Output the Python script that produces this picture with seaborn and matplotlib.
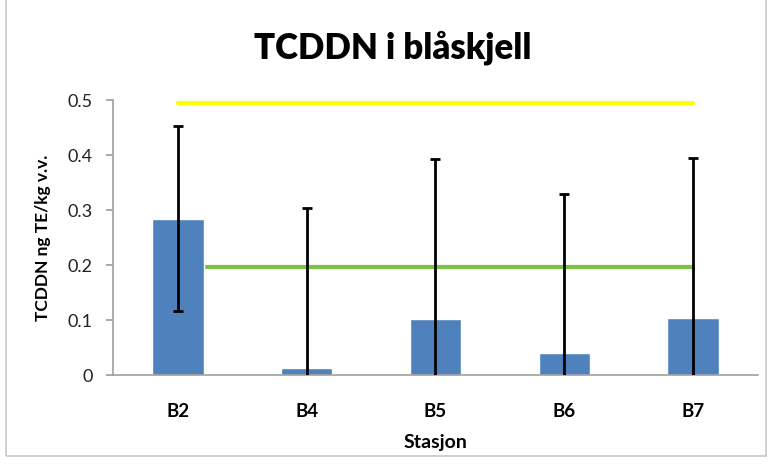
import matplotlib.pyplot as plt
import seaborn as sns
import numpy as np
import pandas as pd
from matplotlib.patches import Rectangle

# Data
stations = ["B2", "B4", "B5", "B6", "B7"]
values = [0.284, 0.013, 0.102, 0.040, 0.104]
errors = [0.168, 0.291, 0.291, 0.289, 0.290]
limit_yellow = 0.495
limit_green = 0.197

sns.set_theme(style="white")
plt.rcParams['font.family'] = ['Lato', 'DejaVu Sans']
plt.rcParams['text.color'] = 'black'
plt.rcParams['axes.labelcolor'] = 'black'

df = pd.DataFrame({"Stasjon": stations, "Verdi": values})

fig = plt.figure(figsize=(7.71, 4.70), dpi=100)
ax = fig.add_axes([0.1472, 0.2021, 0.8353, 0.5851])

# Reference lines behind the bars
ax.plot([0, len(stations) - 1], [limit_yellow, limit_yellow], color="#FFFF00", lw=3, zorder=1)
ax.plot([0, len(stations) - 1], [limit_green, limit_green], color="#7DC242", lw=3, zorder=1)

sns.barplot(data=df, x="Stasjon", y="Verdi", color="#4F81BD", width=0.4,
            saturation=1, ax=ax, zorder=2)

ax.errorbar(np.arange(len(stations)), values, yerr=errors, fmt="none",
            ecolor="black", elinewidth=2, capsize=3.5, capthick=2, zorder=3)

ax.set_ylim(0, 0.5)
ax.set_xlim(-0.5, len(stations) - 0.5)
ax.set_yticks([0, 0.1, 0.2, 0.3, 0.4, 0.5])
ax.set_yticklabels(["0", "0.1", "0.2", "0.3", "0.4", "0.5"], fontsize=13)
ax.set_xticks(np.arange(len(stations)))
ax.set_xticklabels(stations, fontsize=13.5, fontweight="bold")
ax.set_xticks(np.arange(-0.5, len(stations)), minor=True)
ax.tick_params(axis="x", which="major", length=0, pad=20, labelcolor="black")
ax.tick_params(axis="x", which="minor", length=5, color="#A0A0A0", direction="out")
ax.tick_params(axis="y", length=5, color="#A0A0A0", direction="out", left=True,
               pad=10, labelcolor="#222222")

for side in ["top", "right"]:
    ax.spines[side].set_visible(False)
for side in ["left", "bottom"]:
    ax.spines[side].set_color("#A0A0A0")
    ax.spines[side].set_linewidth(1.2)

ax.set_xlabel("Stasjon", fontsize=14, fontweight="bold", labelpad=10)
ax.set_ylabel("TCDDN ng TE/kg v.v.", fontsize=12.5, fontweight="bold", labelpad=12)

fig.text(0.51, 0.898, "TCDDN i blåskjell", ha="center", va="center",
         fontsize=25, fontweight="heavy", color="black")

# Chart border
fig.patches.append(Rectangle((6 / 771, 14 / 470), 760 / 771, 470 / 470,
                             transform=fig.transFigure, fill=False,
                             edgecolor="#C8C8C8", lw=1.2))

plt.savefig("out.png", dpi=100)
plt.close()
